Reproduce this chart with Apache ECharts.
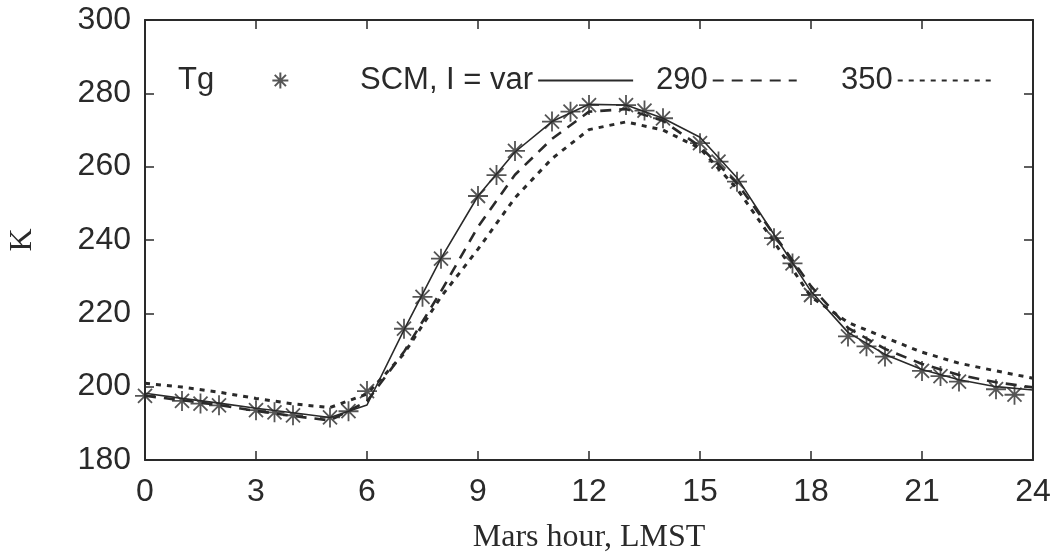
<!DOCTYPE html>
<html>
<head>
<meta charset="utf-8">
<script src="https://cdn.jsdelivr.net/npm/echarts@6/dist/echarts.min.js"></script>
<style>
  html, body { margin: 0; padding: 0; background: #fff; }
  #main { width: 1059px; height: 553px; }
</style>
</head>
<body>
<div id="main"></div>
<script>
// hourly model output, 0..24 LMST
var hours = [0,1,2,3,4,5,6,7,8,9,10,11,12,13,14,15,16,17,18,19,20,21,22,23,24];
var scmVar = [198.2,196.8,195.5,194.1,192.9,191.6,195,215.5,235,252,264,272.3,277,276.8,273.2,268,257,241.5,226,214.8,208.8,204.7,201.9,200,199.1];
var scm290 = [197.5,196.3,195,193.4,192,190.8,196,209.5,226,243.6,257.8,267.6,275,275.7,272.5,265.5,255.5,241.5,227.4,216,210.3,206.2,203.2,201.2,199.8];
var scm350 = [200.9,199.9,198.5,196.8,195.3,194.3,198,209,224.5,237.5,251.5,262.2,270.1,272.2,270,265,254,239.5,224.5,217.5,213.4,209.4,206.4,204.3,202.3];

// measured ground temperature Tg
var tgHours = [0,1,1.5,2,3,3.5,4,5,5.5,6,7,7.5,8,9,9.5,10,11,11.5,12,13,13.5,14,15,15.5,16,17,17.5,18,19,19.5,20,21,21.5,22,23,23.5];
var tgValues = [197.5,196.1,195.4,194.9,193.6,193,192.2,191.6,193.3,198.8,215.8,224.5,234.9,252,257.7,264.3,272.3,275,276.8,276.8,275.3,273.2,266.4,261.4,255.9,240.5,233.6,225,213.7,211,208.2,204.3,202.9,201.4,199.3,197.8];

function pairs(xs, ys) {
  return xs.map(function (x, i) { return [x, ys[i]]; });
}

var ink = '#2a2a2a';
var sansFont = "'Liberation Sans', Arial, sans-serif";
var serifFont = "'Liberation Serif', serif";
var star = 'path://M0,-10L0,10M-10,0L10,0M-7,-7L7,7M-7,7L7,-7';

var myChart = echarts.init(document.getElementById('main'));

var axisCommon = {
  axisLine: { show: true, onZero: false, lineStyle: { color: ink, width: 2 } },
  axisTick: { show: true, inside: true, length: 9, lineStyle: { color: ink, width: 1.5 } },
  splitLine: { show: false }
};

// one legend box per entry, gnuplot style: text first, sample after
function legendBox(name, left, sampleWidth, padSpaces) {
  var box = {
    left: left, top: 60,
    align: 'right',
    itemWidth: sampleWidth, itemHeight: 16,
    formatter: function (n) { return n + '\u00a0'.repeat(padSpaces || 0); },
    textStyle: { fontFamily: sansFont, fontSize: 31, color: ink },
    data: [{ name: name }]
  };
  if (!padSpaces) {
    box.itemStyle = { opacity: 0 }; // hide the dot drawn on line samples
  }
  return box;
}

myChart.setOption({
  backgroundColor: '#fff',
  animation: false,
  grid: { left: 145, right: 26, top: 20, bottom: 93, outerBoundsMode: 'none' },
  legend: [
    legendBox('Tg', 173, 19, 6),
    legendBox('SCM, I = var', 355, 95),
    legendBox('290', 651, 84),
    legendBox('350', 836, 94)
  ],
  xAxis: [
    Object.assign({}, axisCommon, {
      type: 'value', min: 0, max: 24, interval: 3,
      name: 'Mars hour, LMST', nameLocation: 'middle', nameGap: 62,
      nameTextStyle: { fontFamily: serifFont, fontSize: 32, color: ink },
      axisLabel: { margin: 16, fontFamily: sansFont, fontSize: 32, color: ink }
    }),
    Object.assign({}, axisCommon, {
      type: 'value', position: 'top', min: 0, max: 24, interval: 3,
      axisLabel: { show: false }
    })
  ],
  yAxis: [
    Object.assign({}, axisCommon, {
      type: 'value', min: 180, max: 300, interval: 20,
      name: 'K', nameLocation: 'middle', nameGap: 106, nameRotate: 90,
      nameTextStyle: { fontFamily: serifFont, fontSize: 32, color: ink },
      axisLabel: { margin: 14, fontFamily: sansFont, fontSize: 32, color: ink }
    }),
    Object.assign({}, axisCommon, {
      type: 'value', position: 'right', min: 180, max: 300, interval: 20,
      axisLabel: { show: false }
    })
  ],
  series: [
    {
      name: 'Tg', type: 'scatter',
      data: pairs(tgHours, tgValues),
      symbol: star, symbolSize: 20,
      itemStyle: { color: 'none', borderColor: ink, borderWidth: 1.8 },
      z: 5
    },
    {
      name: 'SCM, I = var', type: 'line',
      data: pairs(hours, scmVar),
      symbol: 'none',
      lineStyle: { color: ink, width: 1.6, type: 'solid' },
      itemStyle: { color: ink }
    },
    {
      name: '290', type: 'line',
      data: pairs(hours, scm290),
      symbol: 'none',
      lineStyle: { color: ink, width: 2.6, type: [11, 8] },
      itemStyle: { color: ink }
    },
    {
      name: '350', type: 'line',
      data: pairs(hours, scm350),
      symbol: 'none',
      lineStyle: { color: ink, width: 3, type: [5, 6] },
      itemStyle: { color: ink }
    }
  ]
});
</script>
</body>
</html>
